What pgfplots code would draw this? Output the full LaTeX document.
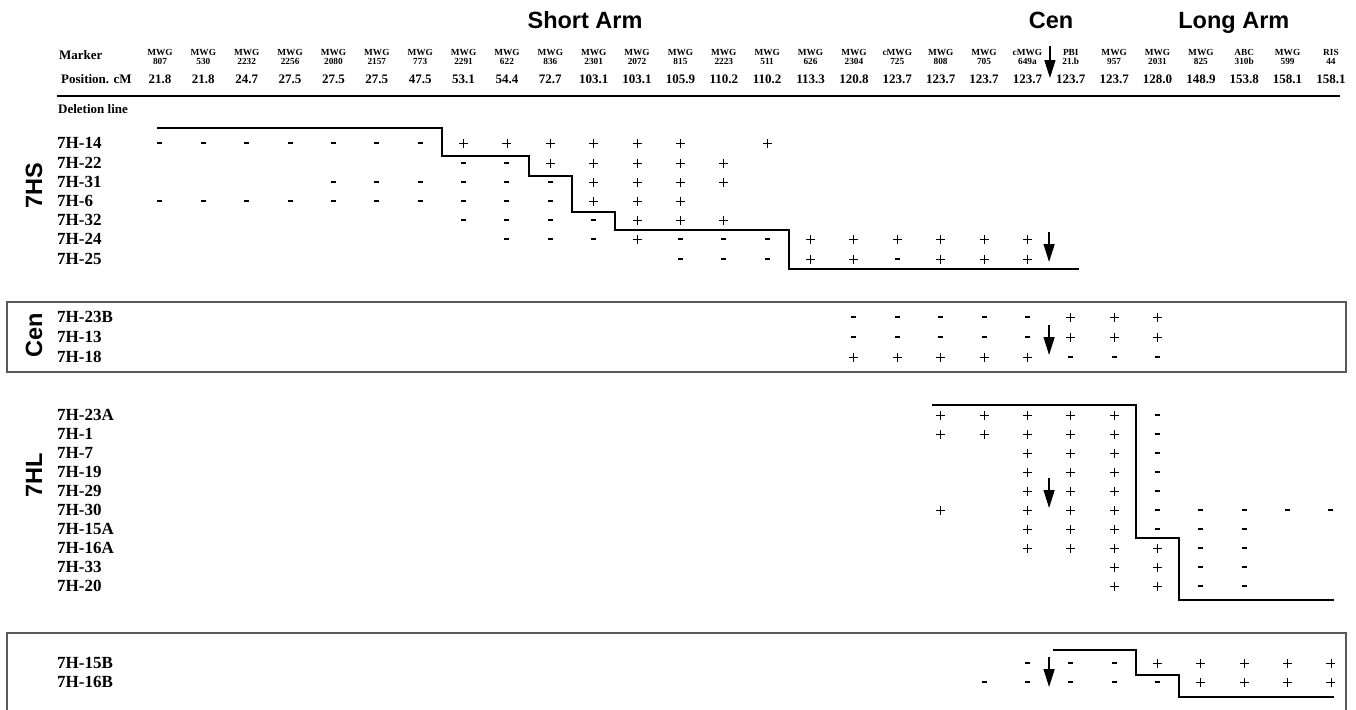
\documentclass[border=0pt]{standalone}
\usepackage{fontspec}
\setmainfont{Liberation Serif}
\newfontfamily\hv{Liberation Sans}
\usepackage{pgfplots}
\pgfplotsset{compat=1.18}
\usetikzlibrary{arrows.meta}
\tikzset{
  darr/.style={line width=1.4pt, -{Triangle[length=18pt,width=11pt]}},
  hdrA/.style={anchor=base, inner sep=0pt, font=\bfseries\fontsize{9.3}{10}\selectfont},
  hdrC/.style={anchor=base, inner sep=0pt, font=\bfseries\fontsize{13}{14}\selectfont},
  rowlab/.style={anchor=base west, inner sep=0pt, font=\bfseries\fontsize{17}{19}\selectfont},
  big/.style={inner sep=0pt, font=\hv\bfseries\fontsize{23.5}{26}\selectfont},
}
\begin{document}
\begin{tikzpicture}
\begin{axis}[scale only axis, width=1356pt, height=710pt,
  xmin=-2.689, xmax=28.577, ymin=0, ymax=710, y dir=reverse,
  hide axis, clip=false]

% header
\node[big, anchor=base] at (axis cs:10.80,28) {Short Arm};
\node[big, anchor=base] at (axis cs:21.544,28) {Cen};
\node[big, anchor=base] at (axis cs:25.76,28) {Long Arm};
\node[anchor=base west, inner sep=0pt, font=\bfseries\fontsize{13}{14}\selectfont] at (axis cs:-1.329,59) {Marker};
\node[anchor=base west, inner sep=0pt, font=\bfseries\fontsize{13}{14}\selectfont] at (axis cs:-1.283,83) {Position. cM};
\foreach \i/\a/\b/\p in {1/MWG/807/21.8, 2/MWG/530/21.8, 3/MWG/2232/24.7, 4/MWG/2256/27.5,
  5/MWG/2080/27.5, 6/MWG/2157/27.5, 7/MWG/773/47.5, 8/MWG/2291/53.1, 9/MWG/622/54.4,
  10/MWG/836/72.7, 11/MWG/2301/103.1, 12/MWG/2072/103.1, 13/MWG/815/105.9, 14/MWG/2223/110.2,
  15/MWG/511/110.2, 16/MWG/626/113.3, 17/MWG/2304/120.8, 18/cMWG/725/123.7, 19/MWG/808/123.7,
  20/MWG/705/123.7, 21/cMWG/649a/123.7, 22/PBI/21.b/123.7, 23/MWG/957/123.7, 24/MWG/2031/128.0,
  25/MWG/825/148.9, 26/ABC/310b/153.8, 27/MWG/599/158.1, 28/RIS/44/158.1}{
  \edef\tmp{\noexpand\node[hdrA] at (axis cs:\i,55) {\a};
    \noexpand\node[hdrA] at (axis cs:\i,64.5) {\b};
    \noexpand\node[hdrC] at (axis cs:\i,83) {\p};}
  \tmp
}
\draw[line width=2pt] (axis cs:-1.375,96) -- (axis cs:28.208,96);
\node[anchor=base west, inner sep=0pt, font=\bfseries\fontsize{13}{14}\selectfont] at (axis cs:-1.352,113) {Deletion line};

% group labels
\node[big, rotate=90] at (axis cs:-1.905,185.5) {7HS};
\node[big, rotate=90] at (axis cs:-1.905,335) {Cen};
\node[big, rotate=90] at (axis cs:-1.905,475) {7HL};

% row labels
\foreach \n/\y in {7H-14/143, 7H-22/163, 7H-31/182, 7H-6/201, 7H-32/220, 7H-24/239, 7H-25/259,
  7H-23B/317, 7H-13/337, 7H-18/357,
  7H-23A/415, 7H-1/434, 7H-7/453, 7H-19/472, 7H-29/491, 7H-30/510, 7H-15A/529, 7H-16A/548, 7H-33/567, 7H-20/586,
  7H-15B/663, 7H-16B/682}{
  \edef\tmp{\noexpand\node[rowlab] at (axis cs:-1.375,\y+5.5) {\n};}
  \tmp
}

% boxes
\draw[gray!70!black, line width=1.3pt] (axis cs:-2.528,302) rectangle (axis cs:28.346,372);
\draw[gray!70!black, line width=1.3pt] (axis cs:-2.528,715) -- (axis cs:-2.528,633) -- (axis cs:28.346,633) -- (axis cs:28.346,715);

% deletion lines
\addplot[black, line width=1.8pt, mark=none] coordinates {(0.93,128) (7.5,128) (7.5,156) (9.5,156) (9.5,176) (10.5,176) (10.5,212) (11.5,212) (11.5,230) (15.5,230) (15.5,269) (22.2,269)};
\addplot[black, line width=1.8pt, mark=none] coordinates {(18.8,405) (23.5,405) (23.5,538) (24.5,538) (24.5,600) (28.07,600)};
\addplot[black, line width=1.8pt, mark=none] coordinates {(21.59,650) (23.5,650) (23.5,675) (24.5,675) (24.5,697) (28.07,697)};

% plus
\addplot[only marks, mark=+, mark size=4.5pt, mark options={line width=0.9pt, black}] table {
x y
8 143
9 143
10 143
11 143
12 143
13 143
15 143
10 163
11 163
12 163
13 163
14 163
11 182
12 182
13 182
14 182
11 201
12 201
13 201
12 220
13 220
14 220
12 239
16 239
17 239
18 239
19 239
20 239
21 239
16 259
17 259
19 259
20 259
21 259
22 317
23 317
24 317
22 337
23 337
24 337
17 357
18 357
19 357
20 357
21 357
19 415
20 415
21 415
22 415
23 415
19 434
20 434
21 434
22 434
23 434
21 453
22 453
23 453
21 472
22 472
23 472
21 491
22 491
23 491
19 510
21 510
22 510
23 510
21 529
22 529
23 529
21 548
22 548
23 548
24 548
23 567
24 567
23 586
24 586
24 663
25 663
26 663
27 663
28 663
25 682
26 682
27 682
28 682
};

% minus
\addplot[only marks, mark=-, mark size=2.5pt, mark options={line width=2.4pt, black}] table {
x y
1 143
2 143
3 143
4 143
5 143
6 143
7 143
8 163
9 163
5 182
6 182
7 182
8 182
9 182
10 182
1 201
2 201
3 201
4 201
5 201
6 201
7 201
8 201
9 201
10 201
8 220
9 220
10 220
11 220
9 239
10 239
11 239
13 239
14 239
15 239
13 259
14 259
15 259
18 259
17 317
18 317
19 317
20 317
21 317
17 337
18 337
19 337
20 337
21 337
22 357
23 357
24 357
24 415
24 434
24 453
24 472
24 491
24 510
25 510
26 510
27 510
28 510
24 529
25 529
26 529
25 548
26 548
25 567
26 567
25 586
26 586
21 663
22 663
23 663
20 682
21 682
22 682
23 682
24 682
};

% centromere arrows
\draw[darr] (axis cs:21.52,46) -- (axis cs:21.52,78);
\draw[darr] (axis cs:21.5,232) -- (axis cs:21.5,262);
\draw[darr] (axis cs:21.5,325) -- (axis cs:21.5,355);
\draw[darr] (axis cs:21.5,478) -- (axis cs:21.5,508);
\draw[darr] (axis cs:21.5,657) -- (axis cs:21.5,687);
\end{axis}
\pgfresetboundingbox
\useasboundingbox (current axis.south west) rectangle (current axis.north east);
\end{tikzpicture}
\end{document}
